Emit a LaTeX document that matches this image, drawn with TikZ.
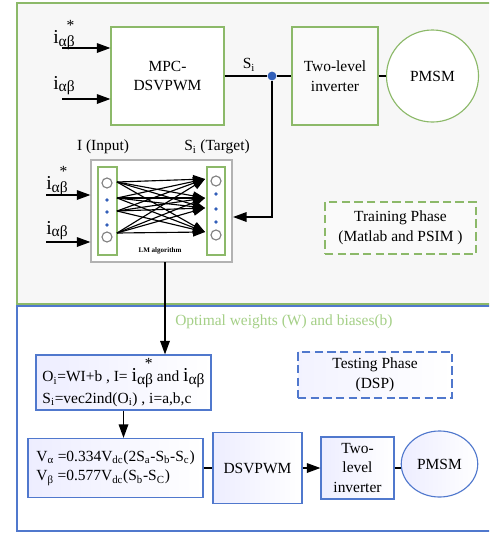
\documentclass[tikz,border=0pt]{standalone}
\usepackage{fontspec}
\setmainfont{Liberation Serif}
\usetikzlibrary{arrows.meta,shapes.geometric}
\definecolor{trgreen}{RGB}{140,185,105}
\definecolor{tsblue}{RGB}{80,120,205}
\definecolor{optgreen}{RGB}{165,208,135}
\definecolor{dotblue}{RGB}{50,95,185}
\newcommand{\iab}{{\fontsize{14}{14}\selectfont i}\raisebox{-0.3ex}{αβ}}
\newcommand{\iabref}{\iab\llap{\raisebox{1.85ex}{*}\hspace{0.02em}}}

\begin{document}
\begin{tikzpicture}[x=0.025cm,y=-0.025cm,line width=0.8pt,
  >={Triangle[length=3.4mm,width=2.4mm]},
  font=\fontsize{11}{14}\selectfont,
  gbox/.style={draw=trgreen,fill=white,align=center,inner sep=1pt},
  bbox/.style={draw=tsblue,left color=blue!7,right color=white,align=center,inner sep=1pt},
  wire/.style={line width=1pt},
  nnarrow/.style={line width=0.8pt,-{Triangle[length=3mm,width=2.2mm]}},
  unit/.style={circle,draw=gray,inner sep=0pt,minimum size=0.25cm},
  bdot/.style={circle,fill=dotblue,inner sep=0pt,minimum size=0.09cm}]
\useasboundingbox (0,0) rectangle (489,534);
\clip (0,0) rectangle (489,534);
% frames
\draw[trgreen,line width=1pt,fill=black!3] (17,3) rectangle (500,304);
\draw[tsblue,line width=1pt,fill=white] (17,306) rectangle (500,531);

% training: MPC-DSVPWM, inverter, PMSM
\node[gbox,minimum width=2.825cm,minimum height=2.45cm] (mpc) at (167.5,76) {MPC-\\DSVPWM};
\node[gbox,fill=black!2,minimum width=2.15cm,minimum height=2.45cm] (inv) at (335,76) {Two-level\\inverter};
\node[circle,draw=trgreen,fill=white,minimum size=2.3cm] (pmsm) at (432.5,76) {PMSM};
\node (ref) at (64,35) {\iabref};
\node (meas) at (64,86) {\iab};
\coordinate (a1) at (62,48);
\coordinate (a2) at (62,99);
\draw[->,wire] (a1) -- (a1 -| mpc.west);
\draw[->,wire] (a2) -- (a2 -| mpc.west);
\node[circle,fill=dotblue,inner sep=0pt,minimum size=0.22cm] (jn) at (272,76) {};
\node (si) at (249,65) {S\textsubscript{i}};
\draw[wire] (mpc.east) -- (jn) -- (inv.west);
\draw[wire] (inv) -- (pmsm);

% neural network
\node[draw=gray!60,fill=white,minimum width=3.525cm,minimum height=2.55cm] (nn) at (161.5,211) {};
\node[draw=trgreen,minimum width=0.475cm,minimum height=2.2cm] (incol) at (107.5,211) {};
\node[draw=trgreen,minimum width=0.45cm,minimum height=2.2cm] (outcol) at (216,211) {};
\node (inlab) at (103,147) {I (Input)};
\node (tglab) at (217,147) {S\textsubscript{i} (Target)};
\node[font=\fontsize{5}{6}\selectfont\bfseries] (lm) at (160,251) {LM algorithm};
\node[unit] (u1) at (107,183) {};
\node[unit] (u2) at (107,237) {};
\node[unit] (v1) at (216,181) {};
\node[unit] (v2) at (216,235) {};
\foreach \y in {200,212,225} \node[bdot] at (107,\y) {};
\foreach \y in {194,209,222} \node[bdot] at (216,\y) {};
\foreach \y [count=\k] in {182,198,211,233} \coordinate (s\k) at (117,\y);
\foreach \y [count=\k] in {179,198,208,232} \coordinate (t\k) at (205,\y);
\foreach \a in {1,...,4}
  \foreach \b in {1,...,4}
    \draw[nnarrow] (s\a) -- (t\b);
\node (ref2) at (57,181) {\iabref};
\node (meas2) at (57,231) {\iab};
\coordinate (b1) at (46,195);
\coordinate (b2) at (46,242);
\draw[->,wire] (b1) -- (b1 -| nn.west);
\draw[->,wire] (b2) -- (b2 -| nn.west);
\coordinate (fb) at (233,217);
\draw[->,wire] (jn) |- (fb);
\node[draw=trgreen,dash pattern=on 6pt off 3pt,fill=black!2,minimum width=3.775cm,minimum height=1.3cm,align=center] (train) at (400.5,228) {Training Phase\\(Matlab and PSIM )};

% testing
\node[text=optgreen,anchor=west] (opt) at (170,322) {Optimal weights (W) and biases(b)};
\node[draw=tsblue,dash pattern=on 6pt off 3pt,left color=blue!5,right color=white,minimum width=3.85cm,minimum height=1.15cm,align=center] (test) at (375,375) {Testing Phase\\(DSP)};
\node[bbox,align=left,minimum width=4.375cm,minimum height=1.375cm] (eq1) at (123.5,382.5) {O\textsubscript{i}=WI+b , I= \iabref{} and \iab\\[1pt] S\textsubscript{i}=vec2ind(O\textsubscript{i}) , i=a,b,c};
\node[bbox,align=left,minimum width=4.375cm,minimum height=1.475cm] (eq2) at (115.5,468) {V\textsubscript{α} =0.334V\textsubscript{dc}(2S\textsubscript{a}-S\textsubscript{b}-S\textsubscript{c})\\V\textsubscript{β} =0.577V\textsubscript{dc}(S\textsubscript{b}-S\textsubscript{C})};
\node[bbox,minimum width=2.225cm,minimum height=1.775cm] (dsv) at (257.5,468) {DSVPWM};
\node[bbox,minimum width=1.825cm,minimum height=1.55cm] (inv2) at (357.5,468) {Two-\\level\\inverter};
\node[ellipse,draw=tsblue,left color=blue!7,right color=white,minimum width=1.825cm,minimum height=1.65cm] (pmsm2) at (439.5,464) {PMSM};
\coordinate (nnout) at (165,262);
\draw[->,wire] (nnout) -- (nnout |- eq1.north);
\draw[->,wire] (eq1.south) -- (eq1.south |- eq2.north);
\draw[wire] (eq2) -- (dsv);
\draw[->,wire] (dsv) -- (inv2);
\draw[wire] (inv2.east) -- (inv2.east -| pmsm2.west);
\end{tikzpicture}
\end{document}
